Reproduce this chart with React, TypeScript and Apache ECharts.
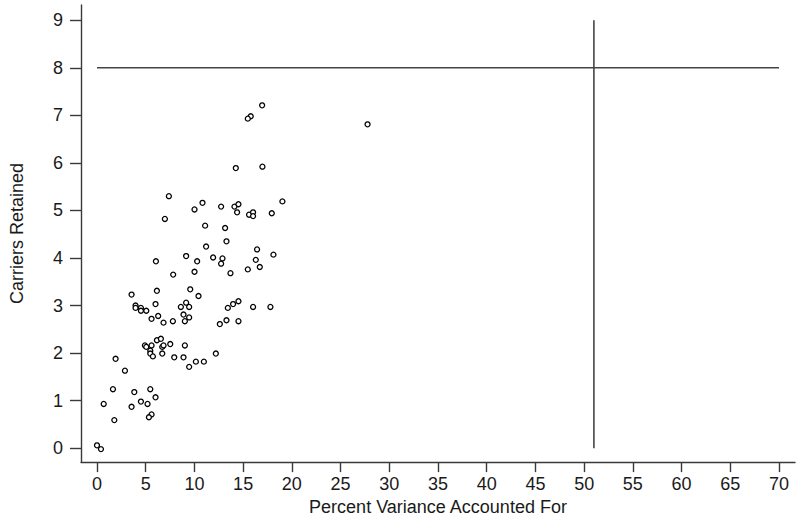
import React, { useEffect, useRef } from "react";
import * as echarts from "echarts";

const xTicks = [0, 5, 10, 15, 20, 25, 30, 35, 40, 45, 50, 55, 60, 65, 70];
const yTicks = [0, 1, 2, 3, 4, 5, 6, 7, 8, 9];

const pctVariance = [
  16.95, 15.78, 15.48, 14.25, 16.98, 7.38, 19.03, 10.83, 10.01, 12.74, 14.11, 14.52, 14.38, 15.61, 16.02, 16.02, 17.94, 6.97,
  11.1, 13.15, 13.29, 11.2, 16.43, 18.11, 9.15, 11.92, 12.88, 10.28, 6.05, 12.74, 16.3, 16.71, 15.48, 7.82, 10.01, 13.7,
  27.77,
  3.55, 6.15, 9.57, 10.42, 3.96, 3.96, 4.51, 4.51, 5.06, 6.01, 5.6, 6.28, 6.83, 7.79, 8.61, 9.15, 9.46, 8.88, 9.46, 9.02,
  13.43, 13.97, 14.52, 16.02, 17.8, 12.61, 13.29, 14.52,
  4.92, 5.06, 5.6, 5.47, 5.47, 5.74, 6.15, 6.56, 6.7, 6.83, 6.7, 7.52, 7.93, 9.02, 8.88, 9.46, 10.15, 10.97, 12.2, 1.91, 2.87,
  1.64, 3.83, 5.47, 6.01, 4.51, 5.19, 3.55, 0.69, 1.78, 5.6, 5.33, 0.0, 0.41,
];
const carriersRetained = [
  7.21, 6.98, 6.93, 5.89, 5.92, 5.3, 5.19, 5.16, 5.02, 5.08, 5.08, 5.13, 4.96, 4.91, 4.96, 4.88, 4.94, 4.82,
  4.68, 4.63, 4.35, 4.24, 4.18, 4.07, 4.04, 4.01, 3.99, 3.93, 3.93, 3.88, 3.96, 3.81, 3.76, 3.65, 3.71, 3.68,
  6.81,
  3.23, 3.31, 3.34, 3.2, 3.0, 2.95, 2.95, 2.89, 2.89, 3.03, 2.72, 2.78, 2.64, 2.67, 2.97, 3.06, 2.97, 2.81, 2.75, 2.67,
  2.95, 3.03, 3.09, 2.97, 2.97, 2.61, 2.69, 2.67,
  2.16, 2.13, 2.16, 2.05, 1.99, 1.93, 2.27, 2.3, 2.13, 2.16, 1.99, 2.19, 1.91, 2.16, 1.91, 1.71, 1.82, 1.82, 1.99, 1.88, 1.63,
  1.24, 1.18, 1.24, 1.07, 0.98, 0.93, 0.87, 0.93, 0.59, 0.71, 0.65, 0.06, -0.02,
];

const horizontalRef = [[0, 8], [70, 8]];
const verticalRef = [[51, 0], [51, 9]];

export default function App() {
  const ref = useRef<HTMLDivElement>(null);
  useEffect(() => {
    if (!ref.current) return;
    const chart = echarts.init(ref.current, null, { renderer: "svg" });
    const font = "'Liberation Sans', Arial, Helvetica, sans-serif";
    const lineColor = "#3a3a3a";
    const textColor = "#1a1a1a";
    chart.setOption({
      animation: false,
      backgroundColor: "#fff",
      textStyle: { fontFamily: font },
      grid: { left: 80, right: 5, top: 5, bottom: 57 },
      xAxis: {
        type: "value",
        min: -1.64,
        max: 71.64,
        name: "Percent Variance Accounted For",
        nameLocation: "middle",
        nameGap: 34,
        nameTextStyle: { fontFamily: font, fontSize: 18, color: textColor },
        axisLine: { show: true, onZero: false, lineStyle: { color: lineColor, width: 1.4 } },
        axisTick: { show: true, length: 10, customValues: xTicks, lineStyle: { color: lineColor, width: 1.4 } },
        axisLabel: { customValues: xTicks, margin: 13, fontSize: 18, fontFamily: font, color: textColor },
        splitLine: { show: false },
      },
      yAxis: {
        type: "value",
        min: -0.293,
        max: 9.32,
        name: "Carriers Retained",
        nameLocation: "middle",
        nameGap: 55,
        nameTextStyle: { fontFamily: font, fontSize: 18, color: textColor },
        axisLine: { show: true, onZero: false, lineStyle: { color: lineColor, width: 1.4 } },
        axisTick: { show: true, length: 11, customValues: yTicks, lineStyle: { color: lineColor, width: 1.4 } },
        axisLabel: { customValues: yTicks, margin: 18, fontSize: 18, fontFamily: font, color: textColor },
        splitLine: { show: false },
      },
      series: [
        {
          type: "line",
          data: horizontalRef,
          showSymbol: false,
          silent: true,
          lineStyle: { color: "#444", width: 1.6 },
          z: 1,
        },
        {
          type: "line",
          data: verticalRef,
          showSymbol: false,
          silent: true,
          lineStyle: { color: "#444", width: 1.6 },
          z: 1,
        },
        {
          type: "scatter",
          data: pctVariance.map((x, i) => [x, carriersRetained[i]]),
          symbol: "circle",
          symbolSize: 5,
          itemStyle: { color: "#fff", borderColor: "#000", borderWidth: 1.3, opacity: 1 },
          z: 3,
        },
      ],
    });
    return () => chart.dispose();
  }, []);
  return (
    <div
      ref={ref}
      style={{ position: "absolute", left: 0, top: 0, width: 800, height: 521 }}
    />
  );
}
